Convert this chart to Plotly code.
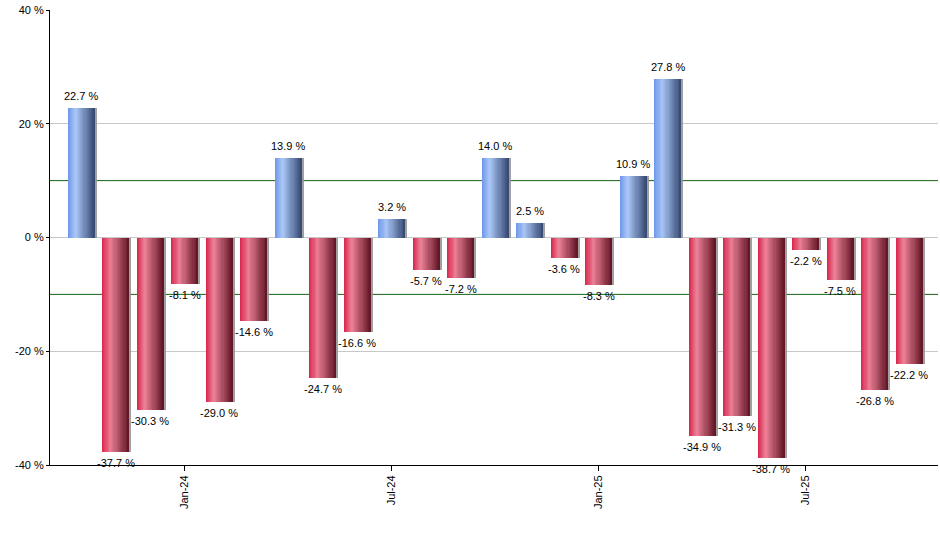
import plotly.graph_objects as go

months = ["Oct-23", "Nov-23", "Dec-23", "Jan-24", "Feb-24", "Mar-24", "Apr-24", "May-24",
          "Jun-24", "Jul-24", "Aug-24", "Sep-24", "Oct-24", "Nov-24", "Dec-24", "Jan-25",
          "Feb-25", "Mar-25", "Apr-25", "May-25", "Jun-25", "Jul-25", "Aug-25", "Sep-25",
          "Oct-25"]
values = [22.7, -37.7, -30.3, -8.1, -29.0, -14.6, 13.9, -24.7, -16.6, 3.2, -5.7, -7.2,
          14.0, 2.5, -3.6, -8.3, 10.9, 27.8, -34.9, -31.3, -38.7, -2.2, -7.5, -26.8, -22.2]
tick_months = ["Jan-24", "Jul-24", "Jan-25", "Jul-25"]
y_ticks = [-40, -20, 0, 20, 40]
ref_lines = [10, -10]

blue_stops = [(0.0, (108, 150, 232)), (0.3, (170, 198, 246)), (1.0, (52, 72, 112))]
red_stops = [(0.0, (216, 34, 74)), (0.3, (236, 128, 150)), (1.0, (96, 20, 36))]


def interp(stops, t):
    for (t0, c0), (t1, c1) in zip(stops[:-1], stops[1:]):
        if t <= t1:
            f = (t - t0) / (t1 - t0) if t1 > t0 else 0
            return "rgb(%d,%d,%d)" % tuple(round(a + (b - a) * f) for a, b in zip(c0, c1))
    return "rgb(%d,%d,%d)" % stops[-1][1]


fig = go.Figure()
W = 0.78
N = 24
# shadow
fig.add_trace(go.Bar(x=months, y=values, width=W, offset=-W / 2 + 0.06,
                     marker=dict(color="rgba(150,150,150,0.9)", line=dict(width=0)),
                     hoverinfo="skip", showlegend=False))
for k in range(N):
    t = (k + 0.5) / N
    cols = [interp(blue_stops if v >= 0 else red_stops, t) for v in values]
    fig.add_trace(go.Bar(x=months, y=values, width=W - k * W / N, offset=-W / 2 + k * W / N,
                         marker=dict(color=cols, line=dict(width=0)),
                         hoverinfo="skip", showlegend=False))

for m, v in zip(months, values):
    fig.add_annotation(x=m, y=v, text="%.1f %%" % v, showarrow=False,
                       yanchor="middle", yshift=12 if v >= 0 else -11,
                       font=dict(family="Liberation Sans, Arial", size=11, color="black"))

for yv in ref_lines:
    fig.add_shape(type="line", xref="paper", x0=0, x1=1, yref="y", y0=yv, y1=yv,
                  line=dict(color="#156315", width=1), layer="below")

fig.update_layout(
    width=940, height=550,
    margin=dict(l=50, r=2, t=10, b=85),
    barmode="overlay", bargap=0,
    plot_bgcolor="white", paper_bgcolor="white",
    font=dict(family="Liberation Sans, Arial", size=11, color="black"),
    xaxis=dict(type="category", categoryorder="array", categoryarray=months,
               range=[-0.9, len(months) - 0.16],
               tickmode="array", tickvals=tick_months, ticktext=tick_months,
               tickangle=-90, ticks="outside", ticklen=5, tickcolor="black",
               showgrid=False, showline=True, linecolor="black", linewidth=1,
               zeroline=False),
    yaxis=dict(range=[-40, 40], tickmode="array", tickvals=y_ticks,
               ticktext=["%d %%" % v for v in y_ticks],
               ticks="outside", ticklen=3, tickcolor="black",
               showgrid=True, gridcolor="#c8c8c8", gridwidth=1,
               zeroline=True, zerolinecolor="#c8c8c8", zerolinewidth=1,
               showline=True, linecolor="black", linewidth=1),
)

fig.write_html("out.html", config={"displayModeBar": False},
               post_script="document.body.style.margin='0';")
